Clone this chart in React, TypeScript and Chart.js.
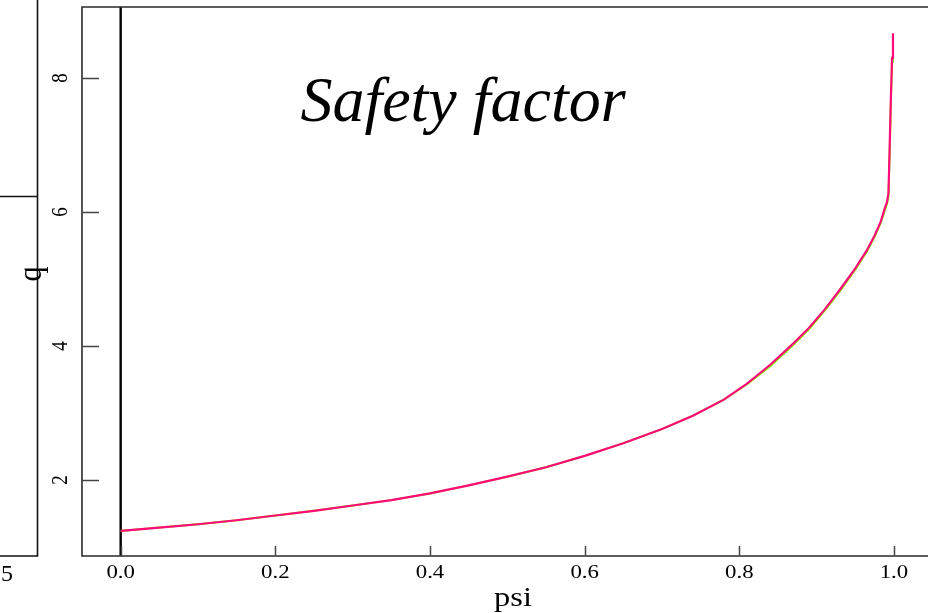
import React, { useEffect, useRef } from "react";
import { Chart, registerables } from "chart.js";

Chart.register(...registerables);

// ---- data ----
const PSI = [
  0, 0.05, 0.1, 0.15, 0.2, 0.25, 0.3, 0.35, 0.4, 0.45, 0.5, 0.55, 0.6, 0.65,
  0.7, 0.74, 0.78, 0.81, 0.84, 0.87, 0.89, 0.91, 0.93, 0.95, 0.965, 0.975,
  0.983, 0.988, 0.991, 0.9929, 0.9945, 0.996, 0.9975, 0.9987,
];
const Q_MAGENTA = [
  1.24, 1.29, 1.34, 1.4, 1.47, 1.54, 1.62, 1.7, 1.8, 1.92, 2.05, 2.19, 2.36,
  2.55, 2.76, 2.96, 3.2, 3.44, 3.72, 4.04, 4.27, 4.54, 4.84, 5.16, 5.43, 5.65,
  5.86, 6.05, 6.15, 6.28, 7.0, 7.7, 8.3, 8.67,
];
const Q_GREEN = [
  1.24, 1.29, 1.34, 1.4, 1.47, 1.54, 1.62, 1.7, 1.8, 1.92, 2.05, 2.19, 2.36,
  2.55, 2.76, 2.96, 3.2, 3.43, 3.7, 4.02, 4.25, 4.52, 4.82, 5.14, 5.41, 5.63,
  5.84, 6.02, 6.12, 6.24, 6.92, 7.62, 8.24, 8.65,
];
const X_TICKS = [0, 0.2, 0.4, 0.6, 0.8, 1.0];
const X_TICK_LABELS = ["0.0", "0.2", "0.4", "0.6", "0.8", "1.0"];
const Y_TICKS = [2, 4, 6, 8];
const Y_TICK_LABELS = ["2", "4", "6", "8"];
const VLINE_AT = 0;
const TITLE = "Safety factor";
const X_TITLE = "psi";
const Y_TITLE = "q";
const LEFT_PANEL_LABEL = "5";

const SERIF = '"Liberation Serif", "DejaVu Serif", serif';

function drawText(
  ctx: CanvasRenderingContext2D,
  text: string,
  x: number,
  y: number,
  font: string,
  sx: number,
  rotate: number
) {
  ctx.save();
  ctx.translate(x, y);
  ctx.scale(sx, 1);
  if (rotate) ctx.rotate(rotate);
  ctx.font = font;
  ctx.fillStyle = "#000";
  ctx.textAlign = "center";
  ctx.textBaseline = "middle";
  ctx.fillText(text, 0, 0);
  ctx.restore();
}

const framePlugin = {
  id: "frame",
  beforeDatasetsDraw(chart: any) {
    const { ctx, chartArea, scales } = chart;
    const x0 = scales.x.getPixelForValue(VLINE_AT);
    ctx.save();
    ctx.strokeStyle = "#000";
    ctx.lineWidth = 2.4;
    ctx.beginPath();
    ctx.moveTo(x0, chartArea.top);
    ctx.lineTo(x0, chartArea.bottom);
    ctx.stroke();
    ctx.restore();
  },
  afterDraw(chart: any) {
    const { ctx, chartArea, scales, width } = chart;
    const { left, top, bottom } = chartArea;
    ctx.save();
    // main box (right side cut off by the crop)
    ctx.strokeStyle = "#2a2a2a";
    ctx.lineWidth = 1.6;
    ctx.beginPath();
    ctx.moveTo(width + 2, top);
    ctx.lineTo(left, top);
    ctx.lineTo(left, bottom);
    ctx.lineTo(width + 2, bottom);
    ctx.stroke();

    // inward ticks
    ctx.strokeStyle = "#444";
    ctx.lineWidth = 1.5;
    Y_TICKS.forEach((v) => {
      const py = Math.round(scales.y.getPixelForValue(v)) + 0.5;
      ctx.beginPath();
      ctx.moveTo(left, py);
      ctx.lineTo(left + 17, py);
      ctx.stroke();
    });
    X_TICKS.forEach((v) => {
      const px = Math.round(scales.x.getPixelForValue(v)) + 0.5;
      ctx.beginPath();
      ctx.moveTo(px, bottom);
      ctx.lineTo(px, bottom - 10);
      ctx.stroke();
    });

    // left neighbouring panel fragment
    ctx.strokeStyle = "#111";
    ctx.lineWidth = 1.6;
    ctx.beginPath();
    ctx.moveTo(37.5, 0);
    ctx.lineTo(37.5, bottom);
    ctx.lineTo(-2, bottom);
    ctx.stroke();
    ctx.beginPath();
    ctx.moveTo(-2, 196.5);
    ctx.lineTo(37.5, 196.5);
    ctx.stroke();
    ctx.restore();

    // tick labels
    const tickFont = `19px ${SERIF}`;
    X_TICKS.forEach((v, i) => {
      const px = scales.x.getPixelForValue(v);
      drawText(ctx, X_TICK_LABELS[i], px, 573, tickFont, 1.2, 0);
    });
    Y_TICKS.forEach((v, i) => {
      const py = scales.y.getPixelForValue(v);
      drawText(ctx, Y_TICK_LABELS[i], 61, py, tickFont, 1.25, -Math.PI / 2);
    });

    // axis titles
    drawText(ctx, X_TITLE, 513, 599, `27px ${SERIF}`, 1.2, 0);
    drawText(ctx, Y_TITLE, 32, 274, `30px ${SERIF}`, 1.1, -Math.PI / 2);
    drawText(ctx, LEFT_PANEL_LABEL, 7, 575, `24px ${SERIF}`, 1, 0);

    // title
    drawText(ctx, TITLE, 463, 104, `italic 64px ${SERIF}`, 1, 0);
  },
};

export default function App() {
  const canvasRef = useRef<HTMLCanvasElement | null>(null);

  useEffect(() => {
    const canvas = canvasRef.current;
    if (!canvas) return;
    const chart = new Chart(canvas, {
      type: "line",
      data: {
        datasets: [
          {
            label: "q",
            data: PSI.map((p, i) => ({ x: p, y: Q_MAGENTA[i] })),
            borderColor: "#ff0a78",
            borderWidth: 2.2,
            pointRadius: 0,
            tension: 0,
            fill: false,
          },
          {
            label: "q (ref)",
            data: PSI.map((p, i) => ({ x: p, y: Q_GREEN[i] })),
            borderColor: "#80ff00",
            borderWidth: 2,
            pointRadius: 0,
            tension: 0,
            fill: false,
          },
        ],
      },
      options: {
        animation: false,
        responsive: false,
        maintainAspectRatio: false,
        devicePixelRatio: 1,
        layout: { padding: { left: 82, top: 7, right: 0, bottom: 57 } },
        plugins: {
          legend: { display: false },
          tooltip: { enabled: false },
          title: { display: false },
        },
        scales: {
          x: { type: "linear", display: false, min: -0.05, max: 1.044 },
          y: { type: "linear", display: false, min: 0.866, max: 9.06 },
        },
      },
      plugins: [framePlugin],
    });
    return () => chart.destroy();
  }, []);

  return (
    <div
      style={{
        position: "fixed",
        left: 0,
        top: 0,
        width: 928,
        height: 613,
        background: "#fff",
        overflow: "hidden",
      }}
    >
      <canvas
        ref={canvasRef}
        width={928}
        height={613}
        style={{ width: 928, height: 613, display: "block" }}
      />
    </div>
  );
}
